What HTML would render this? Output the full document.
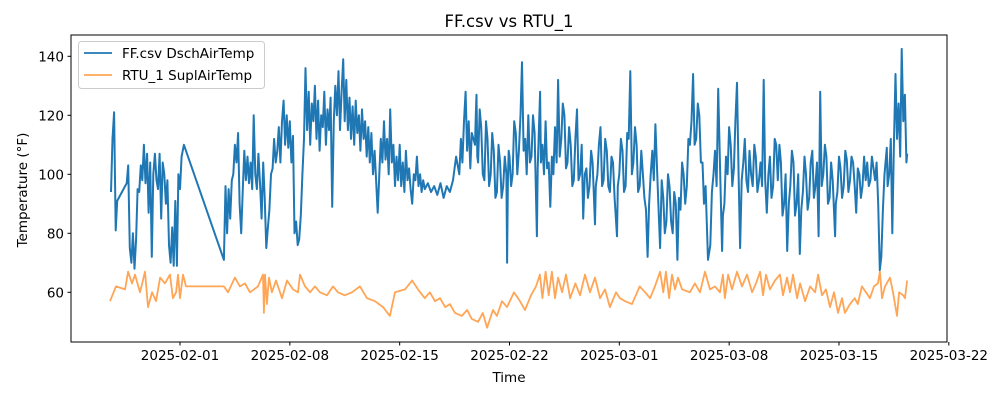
<!DOCTYPE html>
<html><head><meta charset="utf-8"><style>
html,body{margin:0;padding:0;background:#fff;}
svg{display:block;font-family:"DejaVu Sans","Liberation Sans",sans-serif;}
</style></head><body>
<svg id="chart" width="1000" height="400" viewBox="0 0 1000 400">
<rect x="0" y="0" width="1000" height="400" fill="#fff"/>
<text x="509" y="27" font-size="16.5" text-anchor="middle">FF.csv vs RTU_1</text>
<g id="ticks"></g>
<g id="series" clip-path="url(#clip)"></g>
<defs><clipPath id="clip"><rect x="71" y="35" width="876" height="307"/></clipPath></defs>
<rect x="71" y="35" width="876" height="307" fill="none" stroke="#000" stroke-width="1"/>
<text x="509" y="382" font-size="13.5" text-anchor="middle">Time</text>
<text x="27" y="190" font-size="13.5" text-anchor="middle" transform="rotate(-90 27 190)">Temperature (°F)</text>
<g>
<rect x="78.5" y="41.5" width="186" height="47" rx="3" fill="#fff" fill-opacity="0.8" stroke="#ccc"/>
<line x1="84" y1="53" x2="112" y2="53" stroke="#1f77b4" stroke-width="1.8"/>
<text x="122" y="58" font-size="13.5">FF.csv DschAirTemp</text>
<line x1="84" y1="75" x2="112" y2="75" stroke="#ff7f0e" stroke-opacity="0.7" stroke-width="1.8"/>
<text x="122" y="80" font-size="13.5">RTU_1 SuplAirTemp</text>
</g>
</svg>
<script>
const xTickDays=[0,7,14,21,28,35,42,49];
const xTickLabels=["2025-02-01","2025-02-08","2025-02-15","2025-02-22","2025-03-01","2025-03-08","2025-03-15","2025-03-22"];
const yTicks=[60,80,100,120,140];
const blueDaysA=[-4.4,-4.3,-4.2,-4.1,-4.0,-3.6,-3.4,-3.3,-3.2,-3.1,-3.0,-2.9,-2.8,-2.7,-2.6,-2.5,-2.4,-2.3,-2.2,-2.1,-2.0,-1.9,-1.8,-1.7,-1.6,-1.5,-1.4,-1.3,-1.2,-1.1,-1.0,-0.9,-0.8,-0.7,-0.6,-0.5,-0.4,-0.3,-0.2,-0.1,0.0,0.1,0.25,
2.8,2.9,3.0,3.1,3.2,3.3,3.4,3.5,3.6,3.7,3.8,3.9,4.0,4.1,4.2,4.3,4.4,4.5,4.6,4.7,4.8,4.9,5.0,5.1,5.2,5.3,5.4,5.5,5.6,5.7,5.8,5.9,6.0,6.1,6.2,6.3,6.4,6.5,6.6,6.7,6.8,6.9,7.0,7.1,7.2,7.3,7.4,7.5,7.6,7.7,7.8,7.9,8.0,8.1,8.2,8.3,8.4,8.5,8.6,8.7,8.8,8.9,9.0,9.1,9.2,9.3,9.4,9.5,9.6,9.7,9.8,9.9,10.0,10.1,10.2,10.3,10.4,10.5,10.6,10.7,10.8,10.9,
11.0,11.1,11.2,11.3,11.4,11.5,11.6,11.7,11.8,11.9,12.0,12.1,12.2,12.3,12.4,12.5,12.6,12.7,12.8,12.9,13.0,13.1,13.2,13.3,13.4,13.5,13.6,13.7,13.8,13.9,14.0,14.1,14.2,14.3,14.4,14.5,14.6,14.7,14.8,14.9,15.0,15.1,15.2,15.3,15.4,15.5,15.6,15.8,16.0,16.2,16.4,16.6,16.8,17.0,17.2,17.4,17.6,17.8,17.9,18.0,18.1,18.2,18.3,18.4,18.5,18.6];
const blueTempsA=[94,112,121,81,91,95,97,103,75,70,80,68,78,95,94,103,98,110,97,107,87,104,72,100,107,98,95,107,85,104,100,90,98,76,70,82,69,91,69,100,95,106,110,
71,96,80,95,85,98,100,110,104,114,90,80,95,108,98,106,97,104,95,120,100,95,107,97,85,104,92,75,82,88,100,102,112,104,108,116,104,118,125,110,120,109,118,104,113,80,84,76,78,86,100,112,136,115,128,110,124,118,130,112,125,108,120,116,128,110,122,115,126,89,118,130,120,135,115,128,139,118,132,115,126,112,
123,110,125,114,120,108,122,112,118,106,116,104,114,100,108,98,87,100,112,104,118,105,112,100,122,104,110,96,106,98,110,96,104,94,108,98,102,95,90,100,98,106,96,100,94,98,95,97,94,96,93,97,92,96,94,98,106,100,112,104,118,128,108,118,102,114];
const blueDaysB=[18.8,18.85,18.9,18.95,19.0,19.1,19.2,19.3,19.4,19.5,19.6,19.7,19.8,19.9,20.0,20.1,20.2,20.3,20.4,20.5,20.6,20.7,20.8,20.85,20.9,20.95,21.0,21.1,21.2,21.3,21.4,21.5,21.6,21.7,21.8,21.9,22.0,22.1,22.2,22.3,22.4,22.5,22.6,22.75,22.8,22.95,23.0,23.1,23.2,23.3,23.4,23.5,23.6,23.7,23.8,23.9,24.0,24.1,24.2,24.3,24.4,24.5,24.6,24.7,24.8,24.9,25.0,25.1,25.2,25.3,25.4,25.5,25.6,25.7,25.8,25.9,26.0,26.1,26.2,26.3,26.45,26.5,26.6,26.7,26.8,26.9,27.0,27.1,27.2,27.3,27.4,27.5,27.6,27.7,27.85,27.9,28.0,28.1,28.2,28.3,28.4,28.5,28.6,28.7,28.8,28.9,29.0,29.1,29.2,29.3,29.4,29.5,29.6,29.7,29.8,29.9,30.0,30.1,30.2,30.3,30.45,30.6,30.7,30.8,30.9,31.0,31.1,31.2,31.3,31.4,31.5,31.6,31.7,31.8,31.9,32.0,32.1,32.2,32.3,32.4,32.5,32.6,32.7,32.8,32.9,33.0,33.1,33.2,33.3,33.4,33.5,33.65,33.8,33.9,34.0,34.1,34.2,34.3,34.45,34.55,34.6,34.7,34.8,34.9,35.0,35.1,35.2,35.3,35.4,35.5,35.6,35.7,35.8,35.9,36.0,36.1,36.2,36.3,36.4,36.5,36.6,36.7,36.8,36.9,37.0,37.1,37.2,37.3,37.4,37.5,37.6,37.7,37.8,37.9,38.0,38.1,38.2,38.3,38.4,38.5,38.6,38.7,38.8,38.9,39.0,39.1,39.2,39.3,39.4,39.5,39.6,39.7,39.8,39.9,40.0,40.1,40.2,40.3,40.4,40.5,40.6,40.7,40.8,40.9,41.0,41.1,41.2,41.3,41.4,41.5,41.6,41.75,41.8,41.9,42.0,42.1,42.2,42.3,42.4,42.5,42.6,42.7,42.8,42.9,43.0,43.1,43.2,43.3,43.4,43.5,43.6,43.7,43.8,43.9,44.0,44.1,44.2,44.3,44.4,44.5,44.6,44.7,44.8,44.9,45.05,45.1,45.2,45.3,45.4,45.5,45.6,45.7,45.8,45.9,46.0,46.1,46.2,46.3,46.35];
const blueTempsB=[110,120,127,106,104,122,116,100,98,118,112,96,100,114,108,92,94,110,104,92,96,106,100,70,98,108,106,96,100,118,114,100,108,120,138,108,112,100,120,104,106,120,114,79,102,128,104,110,100,118,102,104,89,106,100,116,104,132,106,112,124,120,102,104,116,110,96,98,112,122,98,100,110,85,100,102,92,96,108,104,83,96,100,110,116,96,98,112,108,96,94,106,104,92,79,96,100,112,108,94,96,114,112,135,100,104,116,110,94,96,108,100,92,88,72,90,100,108,98,117,95,75,98,92,80,84,100,96,84,80,94,90,71,92,88,104,100,90,96,112,110,118,134,110,112,124,120,104,104,90,96,71,76,94,100,108,96,129,96,74,86,90,106,100,116,110,96,102,118,131,100,75,98,104,112,98,94,108,100,96,110,106,94,98,104,96,132,98,87,100,106,92,96,112,110,98,110,104,86,90,100,74,90,96,108,104,86,90,100,73,88,94,106,100,88,92,104,108,92,96,104,79,128,96,100,110,106,90,92,104,98,79,90,94,106,102,92,96,108,105,94,98,106,104,96,87,102,100,92,96,106,98,104,96,98,106,102,98,104,90,67.5,72,88,100,109,96,100,112,80,110,134,112,124,106,142.5,118,127,104,107];
const orangeDays=[-4.46,-4.08,-3.5,-3.31,-3.06,-2.87,-2.55,-2.23,-2.04,-1.78,-1.53,-1.27,-0.96,-0.64,-0.45,-0.25,-0.13,0,0.19,0.38,2.8,3.06,3.5,3.82,4.14,4.46,4.97,5.29,5.35,5.42,5.54,5.67,5.86,6.12,6.5,6.82,7.2,7.52,7.65,7.97,8.29,8.6,8.92,9.37,9.75,10.07,10.5,10.96,11.47,11.92,12.43,12.94,13.38,13.7,14.34,14.79,15.17,15.6,15.93,16.25,16.57,16.9,17.2,17.53,17.97,18.3,18.6,19.0,19.3,19.57,19.95,20.2,20.52,20.84,21.29,21.67,21.99,22.37,22.69,22.94,23.1,23.3,23.5,23.7,23.9,24.1,24.35,24.6,24.86,25.2,25.5,25.81,26.13,26.45,26.77,27.09,27.4,27.79,28.04,28.36,28.81,29.3,29.64,29.96,30.27,30.6,30.8,30.97,31.17,31.36,31.55,31.74,32.0,32.5,32.82,33.14,33.46,33.78,34.1,34.42,34.6,34.73,34.93,35.18,35.5,35.82,36.14,36.46,36.71,36.97,37.16,37.35,37.6,37.92,38.24,38.43,38.69,38.88,39.07,39.33,39.52,39.84,40.16,40.48,40.67,40.92,41.17,41.43,41.68,41.94,42.19,42.38,42.7,43.0,43.2,43.46,43.72,43.97,44.23,44.48,44.61,44.74,44.93,45.25,45.44,45.7,45.83,46.09,46.21,46.34];
const orangeTemps=[57,62,61,67,63,66,60,67,55,60,57,65,63,66,58,60,66,58,66,62,62,60,65,62,63,60,62,66,53,66,56,65,60,64,58,64,61,60,66,62,60,62,60,59,62,60,59,60,62,58,57,55,52,60,61,64,61,58,60,57,58,55,56,53,52,54,51,50,53,48,54,52,57,55,60,57,54,59,62,66,58,67,59,67,58,65,60,66,58,63,59,66,60,65,58,61,55,60,58,57,56,62,60,58,62,67,60,67,58,66,61,65,61,60,63,60,67,61,62,60,66,58,66,61,67,62,66,60,63,67,59,66,61,64,66,59,65,60,66,58,63,57,62,60,66,59,61,55,60,53,58,53,56,58,56,62,60,58,62,63,67,58,62,65,60,52,60,59,58,64];

const NS="http://www.w3.org/2000/svg";
function xScale(d){return 180+d*15.69;}
function yScale(v){return 292.3-(v-60)*2.95;}
const ticks=document.getElementById('ticks');
const series=document.getElementById('series');
xTickDays.forEach((d,i)=>{
  const x=xScale(d);
  const t=document.createElementNS(NS,'line');
  t.setAttribute('x1',x);t.setAttribute('x2',x);t.setAttribute('y1',342);t.setAttribute('y2',345.5);t.setAttribute('stroke','#000');
  
  
  ticks.appendChild(t);
  const l=document.createElementNS(NS,'text');
  l.setAttribute('x',x);l.setAttribute('y',360);l.setAttribute('font-size','13.5');l.setAttribute('text-anchor','middle');
  l.textContent=xTickLabels[i];
  
  
  ticks.appendChild(l);
});
yTicks.forEach(v=>{
  const y=yScale(v);
  const t=document.createElementNS(NS,'line');
  t.setAttribute('x1',67.5);t.setAttribute('x2',71);t.setAttribute('y1',y);t.setAttribute('y2',y);t.setAttribute('stroke','#000');
  
  
  ticks.appendChild(t);
  const l=document.createElementNS(NS,'text');
  l.setAttribute('x',64);l.setAttribute('y',y+5);l.setAttribute('font-size','13.5');l.setAttribute('text-anchor','end');
  l.textContent=v;
  
  
  ticks.appendChild(l);
});
const blueDays=blueDaysA.concat(blueDaysB);
const blueTemps=blueTempsA.concat(blueTempsB);
function path(days,vals){return days.map((d,i)=>(i?'L':'M')+xScale(d).toFixed(1)+' '+yScale(vals[i]).toFixed(1)).join('');}
const pb=document.createElementNS(NS,'path');
pb.setAttribute('d',path(blueDays,blueTemps));
pb.setAttribute('fill','none');pb.setAttribute('stroke','#1f77b4');pb.setAttribute('stroke-width','2');pb.setAttribute('stroke-linejoin','round');


series.appendChild(pb);
const po=document.createElementNS(NS,'path');
po.setAttribute('d',path(orangeDays,orangeTemps));
po.setAttribute('fill','none');po.setAttribute('stroke','#ff7f0e');po.setAttribute('stroke-opacity','0.7');po.setAttribute('stroke-width','1.8');po.setAttribute('stroke-linejoin','round');


series.appendChild(po);
</script>
</body></html>
